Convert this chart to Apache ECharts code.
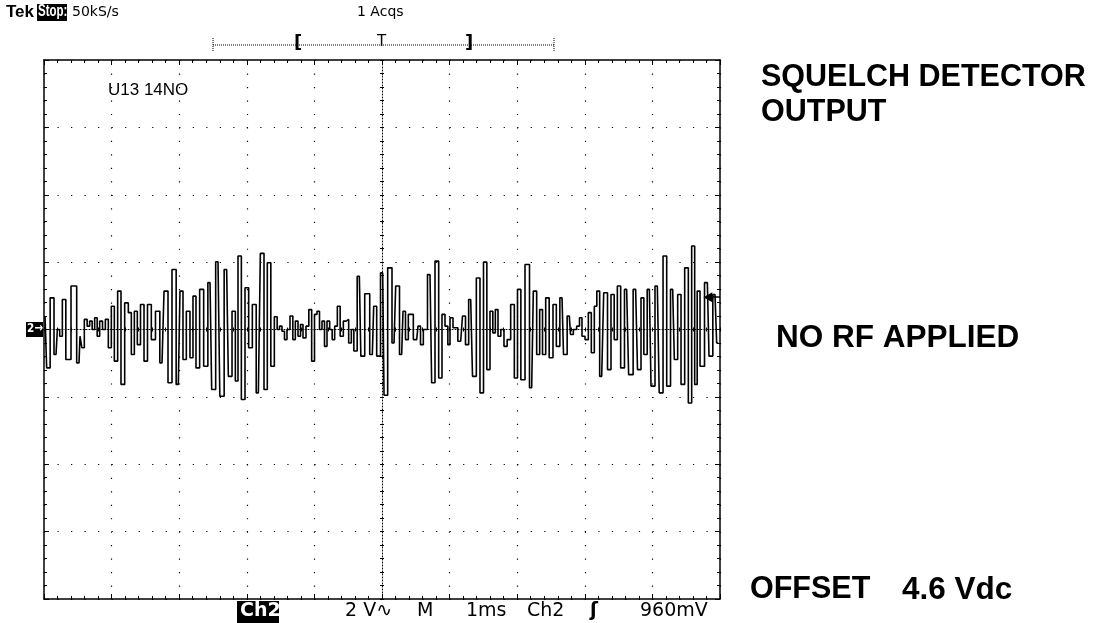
<!DOCTYPE html>
<html><head><meta charset="utf-8">
<script src="https://cdn.jsdelivr.net/npm/echarts@6/dist/echarts.min.js"></script>
<style>html,body{margin:0;padding:0;background:#fff}#c{width:1107px;height:623px}</style>
</head><body><div id="c"></div>
<script>
// time (ms, 1 ms/div, trigger at 0) and voltage (V, 2 V/div, ground at centre)
const timeMs = [
-4.985,-4.936,-4.882,-4.822,-4.783,-4.753,-4.704,-4.650,-4.551,-4.482,-4.453,-4.428,-4.379,-4.344,-4.305,-4.270,-4.231,-4.196,-4.157,-4.112,
-4.073,-4.024,-3.984,-3.935,-3.886,-3.836,-3.777,-3.728,-3.688,-3.639,-3.600,-3.545,-3.496,-3.442,-3.383,-3.319,-3.254,-3.195,-3.136,-3.077,
-3.013,-2.964,-2.924,-2.865,-2.816,-2.776,-2.727,-2.668,-2.608,-2.544,-2.495,-2.426,-2.372,-2.298,-2.248,-2.189,-2.150,-2.110,-2.051,-2.002,
-1.943,-1.893,-1.829,-1.770,-1.721,-1.672,-1.617,-1.568,-1.534,-1.499,-1.460,-1.425,-1.386,-1.336,-1.302,-1.262,-1.223,-1.188,-1.149,-1.100,
-1.065,-1.016,-0.981,-0.942,-0.907,-0.868,-0.833,-0.794,-0.754,-0.720,-0.680,-0.641,-0.597,-0.547,-0.513,-0.473,-0.434,-0.399,-0.335,-0.291,
-0.220,-0.143,-0.103,-0.054,0.010,0.050,0.118,0.178,0.227,0.291,0.330,0.365,0.414,0.513,0.552,0.587,0.636,0.710,0.759,0.809,
0.868,0.907,0.957,0.991,1.021,1.080,1.164,1.218,1.252,1.312,1.366,1.425,1.474,1.529,1.573,1.622,1.657,1.696,1.736,1.780,
1.829,1.874,1.933,1.982,2.027,2.081,2.150,2.214,2.263,2.313,2.352,2.397,2.446,2.500,2.559,2.599,2.663,2.707,2.771,2.806,
2.855,2.904,2.939,2.978,3.028,3.077,3.116,3.166,3.190,3.250,3.309,3.363,3.412,3.457,3.506,3.555,3.619,3.678,3.752,3.807,
3.856,3.891,3.955,4.004,4.073,4.128,4.187,4.236,4.300,4.349,4.399,4.448,4.507,4.556,4.606,4.645,4.680,4.729,4.813,4.862,
4.926,4.975
];
const volts = [
0.40,-1.14,0.94,-0.74,0.00,-0.20,0.89,-0.89,1.29,-0.99,-0.20,-0.54,0.30,0.10,0.25,0.00,0.35,-0.20,0.25,0.00,
0.30,-0.54,0.69,-0.94,1.14,-1.63,0.79,0.50,-0.74,0.54,-0.45,0.74,-0.94,0.74,-0.30,0.54,-0.99,1.14,-1.58,1.78,
-1.63,1.14,-0.89,0.54,-0.84,0.99,-1.14,1.19,-1.09,1.39,-1.78,2.01,-1.98,1.78,-1.39,0.54,-1.53,2.18,-2.08,1.24,
-0.54,0.74,-1.88,2.26,-1.78,1.98,-1.09,0.38,0.00,0.10,-0.05,-0.30,0.00,0.40,-0.30,0.25,-0.20,0.15,-0.25,0.10,
0.59,-0.94,0.45,0.54,0.00,0.25,-0.50,0.25,0.00,-0.30,0.10,0.69,-0.20,0.25,0.30,-0.40,0.00,-0.64,1.58,-0.79,
1.06,-0.74,0.69,-0.79,1.68,-1.95,1.83,-0.40,1.29,-0.74,0.54,-0.30,0.45,-0.30,0.10,-0.45,0.00,1.63,-1.58,2.03,
-1.44,0.45,0.10,-0.45,0.35,0.05,-0.35,0.40,-0.45,0.89,-1.39,1.53,-1.88,2.00,-1.19,0.54,-0.10,0.59,-0.20,0.00,
-0.50,-0.30,0.74,-1.44,1.19,-1.49,1.93,-1.73,1.14,-0.74,0.59,-0.74,0.94,-0.84,0.74,-0.50,0.94,-0.74,0.40,-0.15,
0.00,0.10,0.35,-0.20,-0.30,0.50,-0.69,0.69,1.14,-1.39,1.09,-1.19,1.04,-0.30,1.29,-1.14,1.19,-1.34,1.19,-1.19,
0.94,-0.74,1.19,-1.68,1.29,-1.88,2.18,-1.68,1.19,-0.89,1.04,-1.63,1.83,-2.18,2.48,-1.63,1.14,-1.09,1.39,-0.79,
1.04,-0.40
];
const timeRange = [-5, 5];   // 10 divisions of 1 ms
const voltRange = [-8, 8];   // 8 divisions of 2 V
const triggerLevel = 0.96;   // V
const headerLeft = ['Tek', 'Stop:', '50kS/s'];
const headerCenter = '1 Acqs';
const traceLabel = 'U13 14NO';
const statusTexts = ['Ch2', '2 V\u223F', 'M', '1ms', 'Ch2', '\u0283', '960mV'];
const notes = ['SQUELCH DETECTOR', 'OUTPUT', 'NO RF APPLIED', 'OFFSET', '4.6 Vdc'];

const points = timeMs.map((t, i) => [t, volts[i]]);
const K = '#000';
const hidden = {show: false};

function xAx(opt) {
  return Object.assign({type: 'value', min: timeRange[0], max: timeRange[1], interval: 1,
    axisLabel: hidden, splitLine: hidden}, opt);
}
function yAx(opt) {
  return Object.assign({type: 'value', min: voltRange[0], max: voltRange[1], interval: 2,
    axisLabel: hidden, splitLine: hidden}, opt);
}
const borderLine = {show: true, onZero: false, lineStyle: {color: K, width: 1.5}};
const borderTick = {show: true, inside: true, length: 5, lineStyle: {color: K, width: 1}};
const borderMinor = {show: true, splitNumber: 5, length: 3, lineStyle: {color: K, width: 1}};
const centreLine = {show: true, onZero: true, onZeroAxisIndex: 0, lineStyle: {color: K, width: 1, type: [1, 2]}};
const crossIn = {show: true, inside: true, length: 2, lineStyle: {color: K, width: 1}};
const crossOut = {show: true, inside: false, length: 2, lineStyle: {color: K, width: 1}};
const crossMinor = {show: true, splitNumber: 5, length: 2, lineStyle: {color: K, width: 1}};

const chart = echarts.init(document.getElementById('c'), null, {renderer: 'canvas'});
const mono = '"DejaVu Sans", sans-serif';
const bold = '"Liberation Sans", Arial, sans-serif';
function txt(x, y, s, style, extra) {
  return Object.assign({type: 'text', left: x, top: y, style: Object.assign({text: s, fill: K, font: '14px ' + mono}, style)}, extra || {});
}
chart.setOption({
  animation: false,
  backgroundColor: '#fff',
  grid: {left: 44, top: 60, width: 676, height: 539, containLabel: false},
  xAxis: [
    xAx({position: 'bottom', axisLine: borderLine, axisTick: borderTick, minorTick: borderMinor,
      splitLine: {show: true, lineStyle: {color: K, width: 1.2, type: [1.2, 12.275]}}}),
    xAx({position: 'top', axisLine: borderLine, axisTick: borderTick, minorTick: borderMinor}),
    xAx({position: 'bottom', axisLine: centreLine, axisTick: crossIn, minorTick: crossMinor}),
    xAx({position: 'bottom', axisLine: Object.assign({}, centreLine, {show: false}), axisTick: crossOut, minorTick: crossMinor})
  ],
  yAxis: [
    yAx({position: 'left', axisLine: borderLine, axisTick: borderTick, minorTick: borderMinor,
      splitLine: {show: true, lineStyle: {color: K, width: 1.2, type: [1.2, 12.32]}}}),
    yAx({position: 'right', axisLine: borderLine, axisTick: borderTick, minorTick: borderMinor}),
    yAx({position: 'left', axisLine: centreLine, axisTick: crossIn, minorTick: crossMinor}),
    yAx({position: 'left', axisLine: Object.assign({}, centreLine, {show: false}), axisTick: crossOut, minorTick: crossMinor})
  ],
  series: [{
    type: 'line', xAxisIndex: 0, yAxisIndex: 0, data: points, showSymbol: false, silent: true,
    step: 'middle', lineStyle: {color: K, width: 1.6}, z: 5,
    markLine: {silent: true, symbol: 'none', label: hidden, lineStyle: {color: K, width: 1.5, type: 'solid'},
      data: [[{coord: [4.82, triggerLevel]}, {coord: [timeRange[1], triggerLevel]}]]},
    markPoint: {silent: true, label: hidden, itemStyle: {color: K},
      data: [{coord: [4.82, triggerLevel], symbol: 'triangle', symbolRotate: 90, symbolSize: [10, 9]}]}
  }],
  graphic: [
    txt(6, 4, headerLeft[0], {font: 'bold 17px ' + bold}),
    {type: 'rect', left: 37, top: 4, shape: {width: 30, height: 17}, style: {fill: K}},
    txt(38, 4, headerLeft[1], {fill: '#fff', font: 'bold 16px ' + bold}, {scaleX: 0.72, originX: 38}),
    txt(72, 5, headerLeft[2], {font: '14px ' + mono}),
    txt(357, 5, headerCenter, {font: '14px ' + mono}),
    {type: 'line', shape: {x1: 213, y1: 45, x2: 554, y2: 45}, style: {stroke: K, lineWidth: 1, lineDash: [1, 1]}},
    {type: 'line', shape: {x1: 213, y1: 38, x2: 213, y2: 52}, style: {stroke: K, lineWidth: 1, lineDash: [1, 1]}},
    {type: 'line', shape: {x1: 554, y1: 38, x2: 554, y2: 52}, style: {stroke: K, lineWidth: 1, lineDash: [1, 1]}},
    txt(294, 34, '[', {font: 'bold 18px ' + mono}),
    txt(377, 35, 'T', {font: '15px ' + mono}),
    txt(465, 34, ']', {font: 'bold 18px ' + mono}),
    txt(108, 82, traceLabel, {font: '17px ' + bold}),
    {type: 'rect', left: 26, top: 322, shape: {width: 17, height: 15}, style: {fill: K}},
    txt(27, 322, '2\u2192', {fill: '#fff', font: 'bold 13px ' + mono}, {scaleX: 0.8, originX: 27}),
    {type: 'rect', left: 237, top: 601, shape: {width: 42, height: 22}, style: {fill: K}},
    txt(240, 602, statusTexts[0], {fill: '#fff', font: 'bold 19px ' + mono}),
    txt(345, 602, statusTexts[1], {font: '19px ' + mono}),
    txt(417, 602, statusTexts[2], {font: '19px ' + mono}),
    txt(466, 602, statusTexts[3], {font: '19px ' + mono}),
    txt(527, 602, statusTexts[4], {font: '19px ' + mono}),
    txt(590, 602, statusTexts[5], {font: 'bold 19px ' + mono}),
    txt(640, 602, statusTexts[6], {font: '19px ' + mono}),
    txt(761, 62, notes[0], {font: 'bold 30.5px ' + bold}),
    txt(761, 97, notes[1], {font: 'bold 30.5px ' + bold}),
    txt(776, 322, notes[2], {font: 'bold 31.5px ' + bold}),
    txt(750, 574, notes[3], {font: 'bold 30.5px ' + bold}),
    txt(902, 574, notes[4], {font: 'bold 31.5px ' + bold})
  ]
});
</script></body></html>
